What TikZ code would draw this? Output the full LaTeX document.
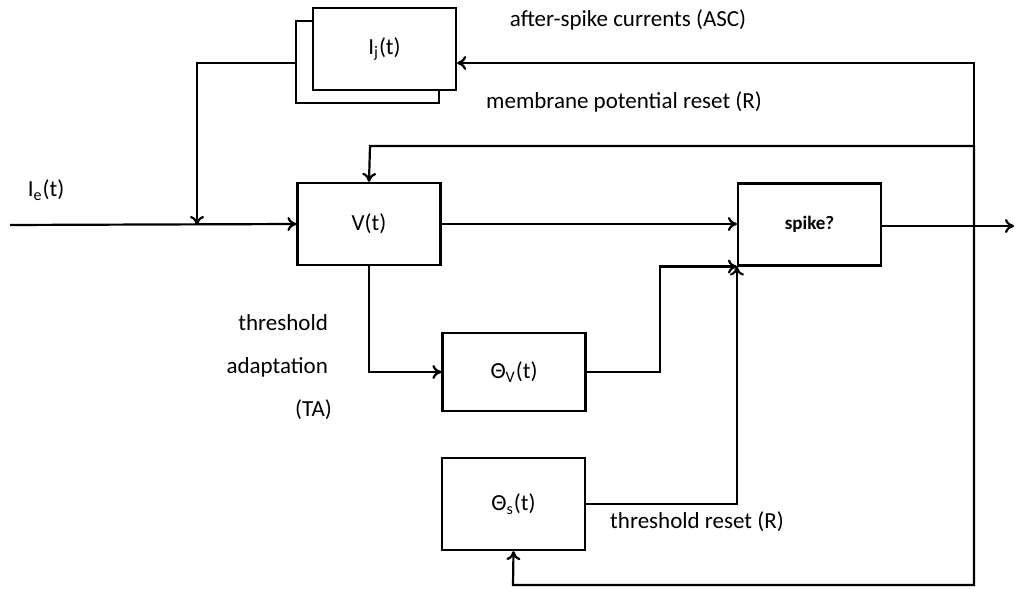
\documentclass[tikz,border=0pt]{standalone}
\usepackage{fontspec}
\setmainfont{Carlito}
\usetikzlibrary{arrows.meta}
\begin{document}
\begin{tikzpicture}[x=0.5pt,y=-0.5pt,
  font=\fontsize{11.5}{13}\selectfont,
  line width=1.1pt,
  block/.style={draw,fill=white,minimum width=71.5pt,minimum height=41pt,inner sep=0pt},
  flow/.style={-{To[length=4.5pt,width=7pt]}},
  lbl/.style={inner sep=0pt}]
\useasboundingbox (0,0) rectangle (1016,592);

   \node[block] at (369,224)   (V) {V(t)};
   \node[block,font=\fontsize{9.5}{11}\selectfont\bfseries] at (809.5,224.5) (S) {spike?};
   \node[block,minimum height=39pt] at (514,372) (TV) {Θ\textsubscript{V}(t)};
   \node[block,minimum height=46pt] at (513.5,504) (TS) {Θ\textsubscript{s}(t)};
   % stacked after-spike current boxes
   \node[block] at (367.5,62)  (Jb) {};
   \node[block] at (384.5,49)  (J) {I\textsubscript{j}(t)};

   \coordinate (in)  at (10,225);
   \coordinate (jn)  at (197,225);
   \coordinate (out) at (1014,226);
   \coordinate (R)   at (974,226);

    \node[lbl] at (46,190)  (Ie) {I\textsubscript{e}(t)};
    \node[lbl] at (628,20)  (asc) {after-spike currents (ASC)};
    \node[lbl] at (624,102) (mpr) {membrane potential reset (R)};
    \node[lbl] at (697,522) (tr)  {threshold reset (R)};
    \node[lbl,anchor=east] at (329,323) (ta1) {threshold};
    \node[lbl,anchor=east] at (329,367) (ta2) {adaptation};
    \node[lbl,anchor=east] at (333,410) (ta3) {(TA)};

    \draw[flow] (in) -- (V.west);
    \draw[flow] (Jb.west |- 0,63) -- (197,63) -- (jn);
    \draw[flow] (V.east) -- (S.west |- V.east);
    \draw[flow] (V.south) |- (TV.west);
    \draw[flow] (TV.east) -- (660,372) |- (S.south west);
    \draw[flow] (TS.east) -| (S.south west);
    \draw[flow] (S.east |- out) -- (out);

    \draw[flow] (R) |- (J.east |- 0,63);
    \draw[flow] (R) |- (370,146) -- (V.north);
    \draw[flow] (R) |- (513,585) -- (TS.south);

    \end{tikzpicture}
\end{document}
